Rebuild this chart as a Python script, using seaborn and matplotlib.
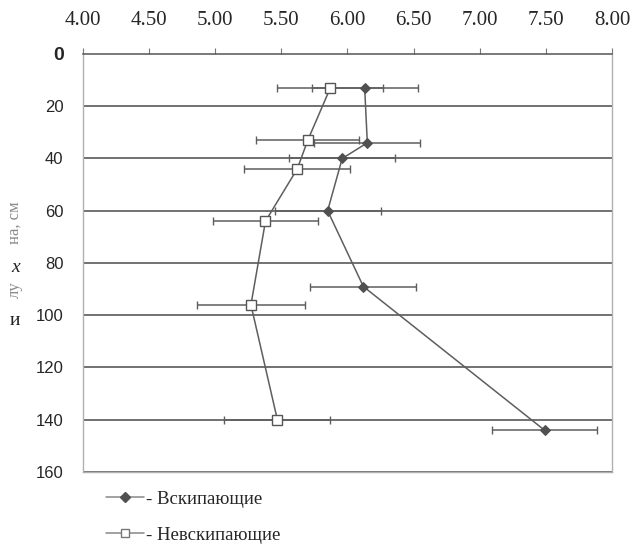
import pandas as pd
import matplotlib.pyplot as plt
import seaborn as sns
from matplotlib.lines import Line2D

# данные: pH по глубине
depth_boil = [13, 34, 40, 60, 89, 144]
ph_boil = [6.13, 6.15, 5.96, 5.85, 6.12, 7.49]
err_boil = [0.40, 0.40, 0.40, 0.40, 0.40, 0.40]

depth_noboil = [13, 33, 44, 64, 96, 140]
ph_noboil = [5.87, 5.70, 5.62, 5.38, 5.27, 5.47]
err_noboil = [0.40, 0.39, 0.40, 0.40, 0.41, 0.40]

x_ticks = [4.0, 4.5, 5.0, 5.5, 6.0, 6.5, 7.0, 7.5, 8.0]
y_ticks = [0, 20, 40, 60, 80, 100, 120, 140, 160]

df_boil = pd.DataFrame({'ph': ph_boil, 'depth': depth_boil})
df_noboil = pd.DataFrame({'ph': ph_noboil, 'depth': depth_noboil})

sns.set_style('white')
plt.rcParams['font.family'] = ['Liberation Sans', 'DejaVu Sans']

fig = plt.figure(figsize=(6.3, 5.51), dpi=100)
ax = fig.add_axes([0.1317, 0.1434, 0.8397, 0.7586])

# горизонтальная сетка
for yv in y_ticks[1:]:
    ax.axhline(yv, color='#4a4a4a', lw=1.1, zorder=0)

ax.errorbar(ph_noboil, depth_noboil, xerr=err_noboil, fmt='none',
            ecolor='#5e5e5e', elinewidth=1.1, capsize=3, zorder=2)
ax.errorbar(ph_boil, depth_boil, xerr=err_boil, fmt='none',
            ecolor='#5e5e5e', elinewidth=1.1, capsize=3, zorder=2)

sns.lineplot(data=df_noboil, x='ph', y='depth', orient='y', ax=ax,
             color='#5e5e5e', lw=1.1, marker='s', markersize=6.5,
             markerfacecolor='white', markeredgecolor='#555555',
             markeredgewidth=1, zorder=4)
sns.lineplot(data=df_boil, x='ph', y='depth', orient='y', ax=ax,
             color='#5e5e5e', lw=1.1, marker='D', markersize=5.5,
             markerfacecolor='#505050', markeredgecolor='#505050', zorder=4)

ax.set_xlim(4, 8)
ax.set_ylim(160, 0)
ax.xaxis.tick_top()
ax.set_xticks(x_ticks)
ax.set_xticklabels(['%.2f' % v for v in x_ticks],
                   fontfamily='Liberation Serif', fontsize=15)
ax.tick_params(axis='x', direction='out', length=4, pad=13, color='#777777')
ax.set_yticks(y_ticks)
ax.set_yticklabels([str(v) for v in y_ticks], fontsize=12)
ax.get_yticklabels()[0].set_fontweight('bold')
ax.get_yticklabels()[0].set_fontsize(14)
ax.tick_params(axis='y', direction='out', length=6, pad=8, color='#4a4a4a')
ax.set_xlabel('')
ax.set_ylabel('')

for side in ['left', 'right', 'bottom']:
    ax.spines[side].set_color('#b0b0b0')
    ax.spines[side].set_linewidth(1)
ax.spines['top'].set_color('#555555')
ax.spines['top'].set_linewidth(1.1)

# подпись оси Y (как на картинке)
fig.text(0.024, 0.595, 'на, см', rotation=90, color='#8a8a8a',
         fontfamily='Liberation Serif', fontsize=12, ha='center', va='center')
fig.text(0.024, 0.515, 'x', color='#222222', fontfamily='Liberation Serif',
         style='italic', fontsize=14, ha='center', va='center')
fig.text(0.024, 0.474, 'лу', rotation=90, color='#8a8a8a',
         fontfamily='Liberation Serif', fontsize=12, ha='center', va='center')
fig.text(0.024, 0.418, 'и', color='#222222', fontfamily='Liberation Serif',
         fontsize=14, ha='center', va='center')

handles = [
    Line2D([], [], color='#888888', lw=1.1, marker='D', markersize=5,
           markerfacecolor='#505050', markeredgecolor='#505050'),
    Line2D([], [], color='#888888', lw=1.1, marker='s', markersize=6,
           markerfacecolor='white', markeredgecolor='#777777'),
]
fig.legend(handles, ['- Вскипающие', '- Невскипающие'], loc='center left',
           bbox_to_anchor=(0.142, 0.061), frameon=False, handlelength=2,
           handletextpad=0.1, labelspacing=1.0,
           prop={'family': 'Liberation Serif', 'size': 13.5})

fig.savefig('out.png', dpi=100)
